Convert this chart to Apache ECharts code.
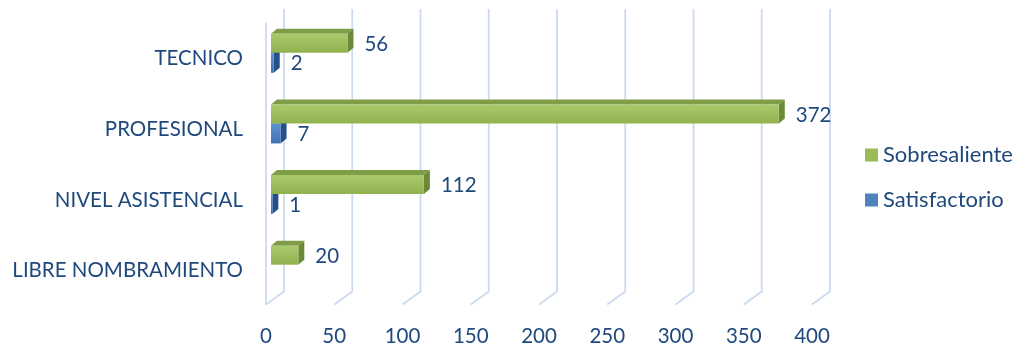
<!DOCTYPE html>
<html><head><meta charset="utf-8">
<script src="https://cdn.jsdelivr.net/npm/echarts@6/dist/echarts.min.js"></script>
<style>html,body{margin:0;padding:0;background:#fff}#c{width:1018px;height:347px}</style>
</head><body><div id="c"></div>
<script>
const categories = ['LIBRE NOMBRAMIENTO', 'NIVEL ASISTENCIAL', 'PROFESIONAL', 'TECNICO'];
const sobresaliente = [20, 112, 372, 56];
const satisfactorio = [null, 1, 7, 2];
const xTicks = [0, 50, 100, 150, 200, 250, 300, 350, 400];

const FONT = 'Lato, "Open Sans", sans-serif';
const TXT = '#1F497D';
const GRIDC = '#ccdaef';

function barRender(topOff, botOff, front1, front2, topC, sideC) {
  return function (params, api) {
    const v = api.value(0);
    if (v == null || isNaN(v)) return;
    const c = api.value(1);
    const p0 = api.coord([0, c]);
    const p1 = api.coord([v, c]);
    const x0 = p0[0] + 5, x1 = p1[0] + 5, yc = p0[1];
    const yt = yc + topOff, yb = yc + botOff;
    const dx = 6, dy = -5;
    return {
      type: 'group',
      children: [
        { type: 'polygon', shape: { points: [[x0, yt], [x1, yt], [x1 + dx, yt + dy], [x0 + dx, yt + dy]] }, style: { fill: topC } },
        { type: 'polygon', shape: { points: [[x1, yt], [x1 + dx, yt + dy], [x1 + dx, yb + dy], [x1, yb]] }, style: { fill: sideC } },
        { type: 'rect', shape: { x: x0, y: yt, width: Math.max(x1 - x0, 0.5), height: yb - yt },
          style: { fill: new echarts.graphic.LinearGradient(0, 0, 0, 1, [{ offset: 0, color: front1 }, { offset: 1, color: front2 }]) } },
        { type: 'text', x: x1 + 17, y: (yt + yb) / 2 + 1,
          style: { text: String(v), fill: TXT, font: '20.5px ' + FONT, textVerticalAlign: 'middle', textAlign: 'left' } }
      ]
    };
  };
}

function gridRender(params, api) {
  const v = api.value(0);
  const cs = params.coordSys;
  const x = api.coord([v, 0])[0];
  const yf = cs.y + cs.height - 1.5;
  const yb = yf - 13;
  const ytop = cs.y - 14.5;
  const children = [
    { type: 'polyline', shape: { points: [[x, yf], [x + 18, yb], [x + 18, ytop]] }, style: { stroke: GRIDC, lineWidth: 1.8, fill: null } }
  ];
  if (v === 0) {
    children.push({ type: 'line', shape: { x1: x, y1: yf, x2: x, y2: cs.y - 1 }, style: { stroke: GRIDC, lineWidth: 1.8 } });
  }
  return { type: 'group', children };
}

const chart = echarts.init(document.getElementById('c'), null, { renderer: 'canvas' });
chart.setOption({
  animation: false,
  backgroundColor: '#fff',
  grid: { left: 266, right: 206, top: 23.5, bottom: 39.5, containLabel: false },
  xAxis: {
    type: 'value', min: 0, max: 400, interval: 50,
    axisLine: { show: false }, axisTick: { show: false }, splitLine: { show: false },
    axisLabel: { color: TXT, fontSize: 20.5, fontFamily: FONT, margin: 20 }
  },
  yAxis: {
    type: 'category', data: categories,
    axisLine: { show: false }, axisTick: { show: false }, splitLine: { show: false },
    axisLabel: { color: TXT, fontSize: 20.5, fontFamily: FONT, margin: 23 }
  },
  legend: {
    data: ['Sobresaliente', 'Satisfactorio'], orient: 'vertical', left: 860, top: 139,
    icon: 'rect', itemWidth: 13, itemHeight: 13, itemGap: 23,
    textStyle: { color: TXT, fontSize: 22, fontFamily: FONT }
  },
  series: [
    { type: 'custom', name: 'grid3d', z: 1, silent: true, renderItem: gridRender,
      data: xTicks.map(t => [t]), encode: { x: 0 } },
    { type: 'custom', name: 'Sobresaliente', z: 3, itemStyle: { color: '#9bbb59' },
      renderItem: barRender(-25, -6, '#aac96d', '#91b24f', '#7f9c47', '#6b8937'),
      data: sobresaliente.map((v, i) => [v, i]), encode: { x: 0, y: 1 } },
    { type: 'custom', name: 'Satisfactorio', z: 2, itemStyle: { color: '#4f81bd' },
      renderItem: barRender(-6, 14, '#5f92d1', '#3f70b0', '#3a66a0', '#25508a'),
      data: satisfactorio.map((v, i) => [v, i]), encode: { x: 0, y: 1 } }
  ]
});
</script></body></html>
